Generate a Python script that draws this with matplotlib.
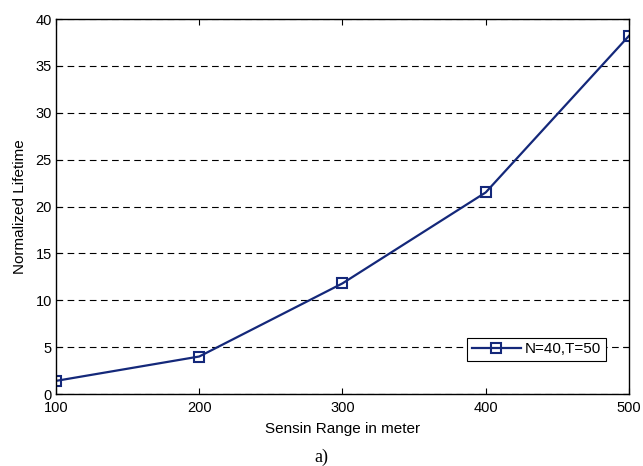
import matplotlib
matplotlib.use('Agg')
import matplotlib.pyplot as plt

# dados
alcance = [100, 200, 300, 400, 500]
tempo_vida = [1.4, 4.0, 11.8, 21.5, 38.2]
legenda = 'N=40,T=50'
cor = '#14287a'

plt.rcParams['font.family'] = ['Liberation Sans', 'DejaVu Sans']

fig = plt.figure(figsize=(6.43, 4.66), dpi=100)
ax = fig.add_axes([0.0871, 0.1545, 0.891, 0.8047])

ax.plot(alcance, tempo_vida, '-s', color=cor, lw=1.6, ms=7.5,
        mfc='none', mec=cor, mew=1.5, label=legenda)

ax.set_xlim(100, 500)
ax.set_ylim(0, 40)
ax.set_xticks(range(100, 501, 100))
ax.set_yticks(range(0, 41, 5))
ax.tick_params(direction='in', top=True, right=True, length=4, labelsize=10.5)
ax.tick_params(axis='x', pad=5)
ax.tick_params(axis='y', pad=3)
ax.yaxis.grid(True, color='k', ls=(0, (6, 4)), lw=0.8)
for s in ax.spines.values():
    s.set_linewidth(1.0)

ax.set_xlabel('Sensin Range in meter', fontsize=11, labelpad=5)
ax.set_ylabel('Normalized Lifetime', fontsize=11, labelpad=6)

leg = ax.legend(loc='lower right', bbox_to_anchor=(0.96, 0.088),
                borderaxespad=0, fontsize=11, fancybox=False, framealpha=1,
                edgecolor='k', handlelength=3.2, handletextpad=0.3,
                borderpad=0.3)
leg.get_frame().set_linewidth(0.8)

fig.text(0.5, 0.0, 'a)', ha='center', va='bottom', fontsize=13,
         family=['Liberation Serif', 'DejaVu Serif'])

fig.savefig('out.png', dpi=100)
